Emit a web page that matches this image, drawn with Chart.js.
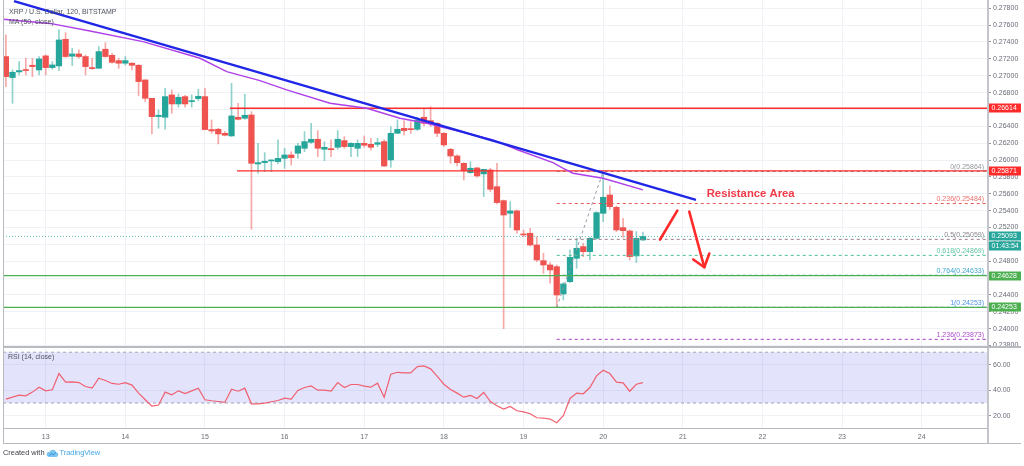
<!DOCTYPE html>
<html><head><meta charset="utf-8">
<script src="https://cdn.jsdelivr.net/npm/chart.js@4.4.1/dist/chart.umd.min.js"></script>
<style>
html,body{margin:0;padding:0;background:#fff;width:1024px;height:466px;overflow:hidden;font-family:"Liberation Sans",Arial,sans-serif;}
#wrap{position:relative;width:1024px;height:466px;}
canvas{position:absolute;left:0;}
#main{top:0;width:1024px;height:347px;}
#rsi{top:347px;width:1024px;height:97px;}
.txt{position:absolute;white-space:nowrap;color:#4f525c;font-size:7px;line-height:8px;}
.frame{position:absolute;background:#b8bbc2;}
</style></head><body>
<div id="wrap">
<canvas id="main" width="1024" height="347"></canvas>
<canvas id="rsi" width="1024" height="97"></canvas>
<div class="frame" style="left:3px;top:0;width:1px;height:444px"></div>
<div class="frame" style="left:987px;top:0;width:2px;height:444px;background:#c3c5cb"></div>
<div class="frame" style="left:3px;top:346px;width:1018px;height:2px"></div>
<div class="frame" style="left:3px;top:428px;width:985px;height:1px"></div>
<div class="frame" style="left:3px;top:443px;width:1018px;height:1px"></div>
<div class="txt" style="left:9px;top:7.5px;">XRP / U.S. Dollar, 120, BITSTAMP</div>
<div class="txt" style="left:9px;top:17.5px;">MA (50, close)</div>
<div class="txt" style="left:8px;top:352.5px;">RSI (14, close)</div>
<div class="txt" style="left:3px;top:448.5px;font-size:7.4px;color:#3a3d45;">Created with</div>
<svg style="position:absolute;left:46px;top:448px" width="13" height="10" viewBox="0 0 13 10">
<path d="M3 9 H10.5 A2.4 2.4 0 0 0 10.3 4.3 A3.6 3.6 0 0 0 3.6 3.8 A2.6 2.6 0 0 0 3 9 Z" fill="#7cc4ee"/>
<path d="M3.2 7.6 L5.6 5.4 L7.4 6.8 L10 4.4" stroke="#2d8fd6" stroke-width="1" fill="none"/>
</svg>
<div class="txt" style="left:59.5px;top:448.5px;font-size:7.4px;color:#45a7e6;">TradingView</div>
</div>
<script>
// ---------- data ----------
const candleStart = 12.5;          // first candle (day 12, 12:00)
const candleStep = 1 / 12;         // 120 minute candles
const opens  = [0.27227,0.26978,0.27045,0.27072,0.27124,0.27068,0.27235,0.27096,0.27116,0.27432,0.27231,0.27258,0.27227,0.27096,0.27088,0.27314,0.27242,0.27179,0.27148,0.27148,0.27124,0.26950,0.26732,0.26515,0.26507,0.26772,0.26665,0.26752,0.26693,0.26728,0.26752,0.26361,0.26365,0.26317,0.26286,0.26507,0.26495,0.26534,0.25953,0.25969,0.25989,0.25981,0.26020,0.26060,0.26080,0.26139,0.26210,0.26246,0.26127,0.26135,0.26151,0.26230,0.26159,0.26139,0.26198,0.26186,0.26186,0.26218,0.26001,0.26317,0.26376,0.26368,0.26364,0.26507,0.26467,0.26436,0.26317,0.26127,0.26048,0.25961,0.25850,0.25906,0.25835,0.25882,0.25684,0.25518,0.25368,0.25396,0.25123,0.25131,0.24992,0.24806,0.24755,0.24735,0.24411,0.24557,0.24834,0.24973,0.24913,0.25071,0.25368,0.25585,0.25439,0.25198,0.25158,0.24862,0.25052];
const highs  = [0.27484,0.27068,0.27167,0.27207,0.27207,0.27227,0.27246,0.27167,0.27543,0.27511,0.27326,0.27306,0.27246,0.27207,0.27345,0.27393,0.27266,0.27207,0.27227,0.27156,0.27132,0.26950,0.26732,0.26594,0.26851,0.26831,0.26784,0.26768,0.26772,0.26839,0.26851,0.26475,0.26377,0.26337,0.26910,0.26673,0.26780,0.26574,0.26198,0.26088,0.26001,0.26238,0.26139,0.26099,0.26198,0.26337,0.26436,0.26349,0.26218,0.26238,0.26349,0.26277,0.26206,0.26238,0.26285,0.26258,0.26258,0.26238,0.26396,0.26475,0.26467,0.26455,0.26507,0.26613,0.26633,0.26443,0.26325,0.26139,0.26060,0.25969,0.25981,0.25914,0.25890,0.25902,0.25961,0.25526,0.25506,0.25408,0.25170,0.25190,0.25091,0.24893,0.24783,0.24755,0.24546,0.24933,0.25071,0.25012,0.25083,0.25388,0.25864,0.25692,0.25455,0.25309,0.25170,0.25150,0.25146];
const lows   = [0.26871,0.26673,0.27009,0.27009,0.26989,0.27009,0.27009,0.27076,0.27061,0.27219,0.27120,0.27207,0.27009,0.27076,0.27088,0.27219,0.27148,0.27088,0.27128,0.27068,0.26764,0.26693,0.26309,0.26377,0.26365,0.26555,0.26626,0.26626,0.26626,0.26705,0.26357,0.26317,0.26191,0.26286,0.26278,0.26475,0.26483,0.25178,0.25843,0.25862,0.25862,0.25953,0.25902,0.25941,0.26020,0.26099,0.26198,0.26040,0.25993,0.26040,0.26127,0.26139,0.26040,0.26040,0.26151,0.26119,0.26159,0.25921,0.25914,0.26317,0.26297,0.26317,0.26349,0.26404,0.26396,0.26277,0.26159,0.25961,0.25929,0.25763,0.25843,0.25795,0.25566,0.25625,0.25479,0.24000,0.25202,0.25131,0.25091,0.24980,0.24795,0.24656,0.24538,0.24253,0.24340,0.24546,0.24716,0.24854,0.24814,0.25060,0.25269,0.25415,0.25150,0.25083,0.24814,0.24783,0.25044];
const closes = [0.26989,0.27041,0.27061,0.27061,0.27108,0.27199,0.27096,0.27128,0.27424,0.27227,0.27258,0.27227,0.27108,0.27084,0.27286,0.27227,0.27159,0.27148,0.27179,0.27124,0.26930,0.26732,0.26515,0.26531,0.26752,0.26665,0.26744,0.26665,0.26705,0.26756,0.26361,0.26345,0.26309,0.26294,0.26523,0.26483,0.26531,0.25961,0.25969,0.25985,0.26001,0.26020,0.26060,0.26028,0.26167,0.26218,0.26246,0.26139,0.26151,0.26123,0.26246,0.26159,0.26198,0.26198,0.26175,0.26151,0.26206,0.25929,0.26317,0.26364,0.26349,0.26360,0.26475,0.26436,0.26436,0.26317,0.26179,0.26048,0.25969,0.25874,0.25902,0.25811,0.25890,0.25653,0.25495,0.25348,0.25396,0.25170,0.25111,0.24992,0.24814,0.24755,0.24696,0.24399,0.24530,0.24846,0.24953,0.24913,0.25071,0.25376,0.25558,0.25447,0.25170,0.25162,0.24854,0.25071,0.25093];
const rsiValues = [33.1,34.6,36.2,35.7,38.6,42.5,39.6,40.4,53.2,46.4,46.7,46.1,43.0,41.7,49.5,47.7,45.4,44.8,46.1,44.1,37.8,32.6,27.6,28.4,38.6,36.5,39.6,37.5,39.6,41.7,32.6,31.8,31.2,30.5,40.9,39.3,41.7,29.4,29.4,29.9,31.0,32.0,33.9,33.1,39.9,42.2,43.5,40.1,40.1,39.3,46.1,42.2,44.6,44.6,43.3,42.5,45.6,34.6,52.7,54.2,53.7,53.7,58.7,59.2,56.9,50.9,44.8,40.7,37.8,34.6,36.0,33.6,38.3,31.2,27.8,25.2,27.3,23.9,23.1,21.6,18.4,18.2,17.4,14.5,20.0,33.6,37.8,37.3,42.2,51.4,55.8,53.2,46.4,45.9,39.3,44.8,46.1];
const maPoints = [[12.468,0.27670],[13.054,0.27620],[13.556,0.27531],[14.222,0.27404],[14.938,0.27207],[15.273,0.27048],[15.691,0.26941],[16.026,0.26831],[16.570,0.26673],[17.031,0.26614],[17.449,0.26495],[17.784,0.26436],[18.202,0.26336],[18.617,0.26238],[18.931,0.26119],[19.370,0.25968],[19.499,0.25902],[19.621,0.25843],[19.998,0.25783],[20.500,0.25645]];
const trendLine = [[12.602,0.27885],[21.165,0.25526]];
const redLevels = [0.26614, 0.25871];
const redLevelStarts = [15.314, 15.402];
const greenLevels = [0.24628, 0.24253];
const lastPrice = 0.25093;
const countdown = '01:43:54';
const fibAnchor = [[19.417,0.24253],[20.0,0.25864]];
const fibValues = [0.25864,0.25484,0.25059,0.24869,0.24633,0.24253,0.23873];
const fibLabels = ['0(0.25864)','0.236(0.25484)','0.5(0.25059)','0.618(0.24869)','0.764(0.24633)','1(0.24253)','1.236(0.23873)'];
const arrowUp = [[20.714,0.25057],[20.931,0.25399]];
const arrowDown = [[21.081,0.25387],[21.270,0.24728]];
const arrowHead = [[21.131,0.24820],[21.270,0.24728],[21.333,0.24891]];
const resistanceText = 'Resistance Area';
const resistanceAt = [21.30, 0.25597];
const axisMarks = [0.26614, 0.25871, 0.25093, 0.24628, 0.24253];
const dayTicks = [13,14,15,16,17,18,19,20,21,22,23,24];
const dayLabels = ['13','14','15','16','17','18','19','20','21','22','23','24'];
const priceTicks = [0.278,0.276,0.274,0.272,0.270,0.268,0.266,0.264,0.262,0.260,0.258,0.256,0.254,0.252,0.250,0.248,0.246,0.244,0.242,0.240,0.238];
const rsiTicks = [60,40,20];
const rsiBand = [70,30];

// ---------- style ----------
const xMin = 12.464, xMax = 24.832;
const yMin = 0.23782, yMax = 0.27898;
const rsiMin = 10.35, rsiMax = 74.1;
const FONT = '"Liberation Sans", Arial, sans-serif';
const GRID = '#eef1f6';
const AXIS_TXT = '#6a6d78';
const UP = '#26a69a', DOWN = '#ef5350';
const UPW = 'rgba(38,166,154,0.5)', DOWNW = 'rgba(239,83,80,0.5)';
const RED = '#ff2a2a', GREEN = '#4caf50';
const fibColors = ['#8a8d96','#e95a57','#9a7f8b','#4fc09a','#2ba1c9','#3d8ee0','#a53cc6'];
const fibTextColors = ['#9598a1','#ec6f6c','#8e8791','#5cc6a2','#3aa6cd','#4a96e3','#ae4ccd'];
const markColors = ['#ff2a2a','#ff2a2a','#26a69a','#4caf50','#4caf50'];

const xs = opens.map((o,i)=>candleStart + i*candleStep);
const pts = arr => arr.map(p=>({x:p[0],y:p[1]}));
const flat = (v, a, b) => [{x:a,y:v},{x:b,y:v}];
const lineDs = (data, color, width, order, extra) => Object.assign({type:'line', data, borderColor:color, borderWidth:width, pointRadius:0, tension:0, fill:false, order}, extra||{});

const datasets = [];
datasets.push(lineDs(pts(arrowUp), RED, 2.6, 0, {borderCapStyle:'round'}));
datasets.push(lineDs(pts(arrowDown), RED, 2.6, 0, {borderCapStyle:'round'}));
datasets.push(lineDs(pts(arrowHead), RED, 2.6, 0, {borderCapStyle:'round', borderJoinStyle:'round'}));
datasets.push(lineDs(pts(trendLine), '#1f26e6', 2.3, 1));
datasets.push(lineDs(pts(maPoints), '#b040e8', 1.4, 2));
redLevels.forEach((v,i)=>datasets.push(lineDs(flat(v, redLevelStarts[i], xMax), RED, 1.3, 3)));
greenLevels.forEach(v=>datasets.push(lineDs(flat(v, xMin, xMax), GREEN, 1.3, 3)));
fibValues.forEach((v,i)=>datasets.push(lineDs(flat(v, fibAnchor[0][0], xMax), fibColors[i], 1, 4, {borderDash:[3,3]})));
datasets.push(lineDs(pts(fibAnchor), '#9598a1', 1, 4, {borderDash:[3,3]}));
datasets.push(lineDs(flat(lastPrice, xMin, xMax), 'rgba(38,166,154,0.7)', 1, 4, {borderDash:[1,2]}));
datasets.push({type:'bar', data: opens.map((o,i)=>({x:xs[i], y:[o, closes[i]]})), backgroundColor: opens.map((o,i)=>closes[i]>=o?UP:DOWN), barThickness:5.6, minBarLength:1, grouped:false, borderWidth:0, order:5});
datasets.push({type:'bar', data: lows.map((l,i)=>({x:xs[i], y:[l, highs[i]]})), backgroundColor: opens.map((o,i)=>closes[i]>=o?UPW:DOWNW), barThickness:1, grouped:false, borderWidth:0, order:6});

const overlay = {
  id:'overlay',
  afterDatasetsDraw(chart){
    const {ctx, scales:{x,y}} = chart;
    ctx.save();
    ctx.font = '7px ' + FONT;
    ctx.textAlign = 'right'; ctx.textBaseline = 'bottom';
    fibValues.forEach((v,i)=>{ ctx.fillStyle = fibTextColors[i]; ctx.fillText(fibLabels[i], x.right - 4, y.getPixelForValue(v) - 1); });
    ctx.font = 'bold 11.3px ' + FONT;
    ctx.fillStyle = '#f03a47'; ctx.textAlign = 'left'; ctx.textBaseline = 'middle';
    ctx.fillText(resistanceText, x.getPixelForValue(resistanceAt[0]), y.getPixelForValue(resistanceAt[1]));
    ctx.restore();
  },
  afterDraw(chart){
    const {ctx, scales:{y}} = chart;
    ctx.save();
    ctx.font = '7px ' + FONT; ctx.textAlign = 'left'; ctx.textBaseline = 'middle';
    const box = (py, color, text) => { ctx.fillStyle = color; ctx.fillRect(989, Math.round(py) - 4.5, 32, 9); ctx.fillStyle = '#fff'; ctx.fillText(text, 991.5, Math.round(py)); };
    axisMarks.forEach((v,i)=>box(y.getPixelForValue(v), markColors[i], v.toFixed(5)));
    box(y.getPixelForValue(lastPrice) + 9.5, '#26a69a', countdown);
    ctx.restore();
  }
};

new Chart(document.getElementById('main'), {
  type:'bar',
  data:{datasets},
  options:{
    responsive:false, animation:false, events:[],
    layout:{padding:{left:3,right:0,top:0,bottom:0}},
    plugins:{legend:{display:false}, tooltip:{enabled:false}},
    scales:{
      x:{type:'linear', min:xMin, max:xMax, offset:false,
         grid:{offset:false, color:GRID, drawTicks:false}, border:{display:false}, ticks:{display:false},
         afterBuildTicks:s=>{s.ticks = dayTicks.map(v=>({value:v}));},
         afterFit:s=>{s.height=0; s.paddingLeft=0; s.paddingRight=0;}},
      y:{type:'linear', position:'right', min:yMin, max:yMax,
         grid:{color:GRID, tickLength:3, tickColor:'#9598a1'}, border:{display:false},
         ticks:{color:AXIS_TXT, padding:2, font:{size:7, family:FONT}, callback:v=>v.toFixed(5)},
         afterBuildTicks:s=>{s.ticks = priceTicks.map(v=>({value:v}));},
         afterFit:s=>{s.width=36; s.paddingTop=0; s.paddingBottom=0;}}
    }
  },
  plugins:[overlay]
});

new Chart(document.getElementById('rsi'), {
  type:'line',
  data:{datasets:[
    {data: rsiValues.map((v,i)=>({x:xs[i], y:v})), borderColor:'#f0606f', borderWidth:1.2, pointRadius:0, tension:0, fill:false, order:0},
    {data: flat(rsiBand[0], xMin, xMax), borderColor:'#a3a6af', borderWidth:1, borderDash:[3,3], pointRadius:0, fill:'+1', backgroundColor:'rgba(150,150,245,0.27)', order:1},
    {data: flat(rsiBand[1], xMin, xMax), borderColor:'#a3a6af', borderWidth:1, borderDash:[3,3], pointRadius:0, fill:false, order:1}
  ]},
  options:{
    responsive:false, animation:false, events:[],
    layout:{padding:{left:3,right:0,top:0,bottom:0}},
    plugins:{legend:{display:false}, tooltip:{enabled:false}},
    scales:{
      x:{type:'linear', min:xMin, max:xMax,
         grid:{color:GRID, drawTicks:false}, border:{display:false},
         ticks:{color:AXIS_TXT, padding:5, font:{size:7, family:FONT}, maxRotation:0, autoSkip:false, callback:(v,i)=>dayLabels[i]},
         afterBuildTicks:s=>{s.ticks = dayTicks.map(v=>({value:v}));},
         afterFit:s=>{s.height=16; s.paddingLeft=0; s.paddingRight=0;}},
      y:{type:'linear', position:'right', min:rsiMin, max:rsiMax,
         grid:{color:GRID, tickLength:3, tickColor:'#9598a1'}, border:{display:false},
         ticks:{color:AXIS_TXT, padding:2, font:{size:7, family:FONT}, callback:v=>v.toFixed(2)},
         afterBuildTicks:s=>{s.ticks = rsiTicks.map(v=>({value:v}));},
         afterFit:s=>{s.width=36; s.paddingTop=0; s.paddingBottom=0;}}
    }
  }
});
</script>
</body></html>
